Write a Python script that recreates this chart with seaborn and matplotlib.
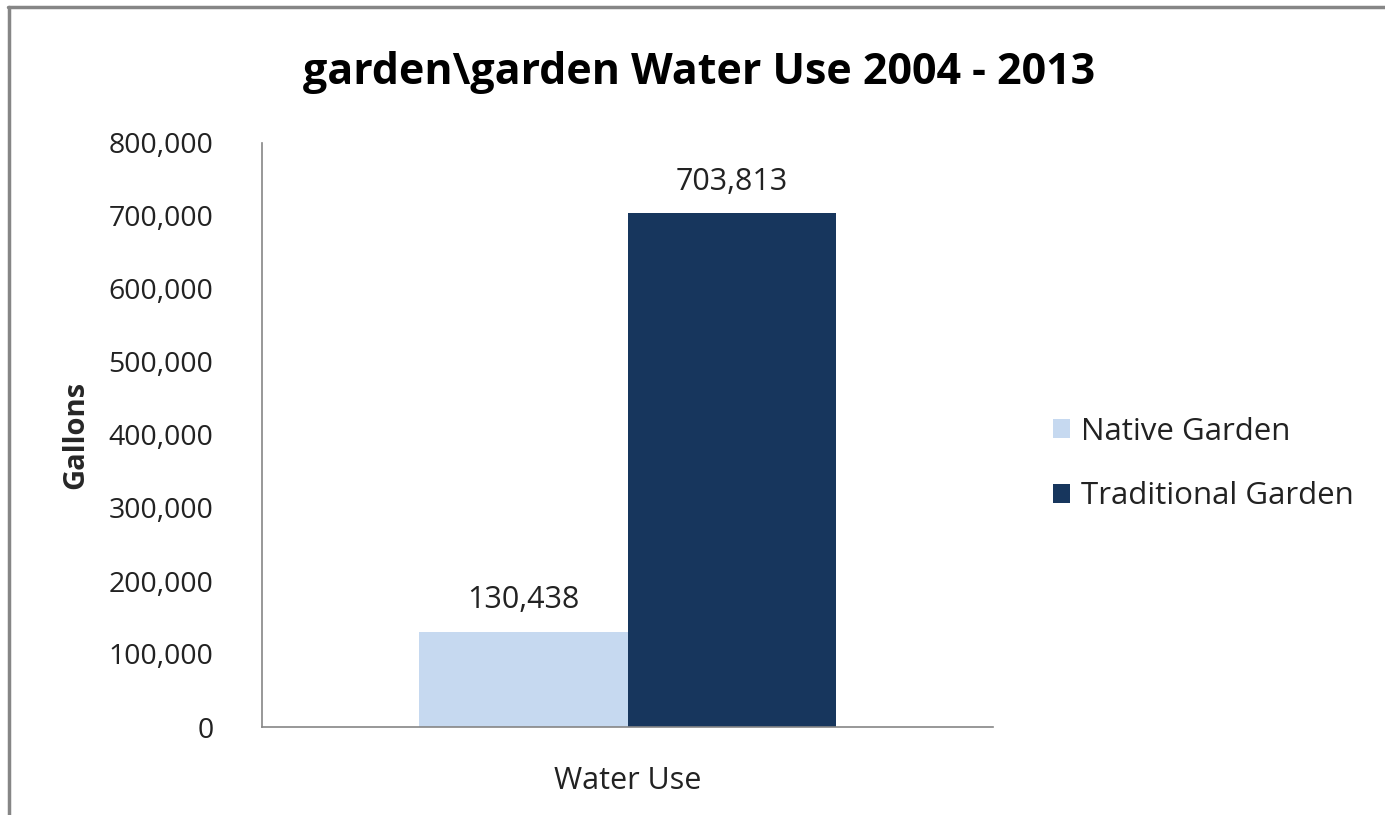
import matplotlib
matplotlib.use("Agg")
import matplotlib.pyplot as plt
import seaborn as sns
import pandas as pd
from matplotlib.lines import Line2D
from matplotlib.patches import Patch
from matplotlib.ticker import FuncFormatter

categories = ["Water Use"]
series = ["Native Garden", "Traditional Garden"]
native_values = [130438]
traditional_values = [703813]
colors = ["#C6D9F0", "#17365D"]
title = "garden\\garden Water Use 2004 - 2013"

df = pd.DataFrame({
    "category": categories * 2,
    "series": [series[0]] * len(categories) + [series[1]] * len(categories),
    "value": native_values + traditional_values,
})

sns.set_theme(style="white")
plt.rcParams["font.family"] = ["Open Sans", "DejaVu Sans"]

fig = plt.figure(figsize=(13.85, 8.15), dpi=100)
ax = fig.add_axes([262/1385, 1-727/815, (993-262)/1385, (727-143)/815])

sns.barplot(data=df, x="category", y="value", hue="series", palette=colors,
            width=0.57, gap=0, ax=ax, legend=False, saturation=1, errorbar=None,
            linewidth=0)

ax.set_ylim(0, 800000)
ax.set_xlim(-0.5, 0.5)
ax.set_yticks(range(0, 800001, 100000))
ax.yaxis.set_major_formatter(FuncFormatter(lambda v, p: f"{int(v):,}"))
ax.tick_params(axis="both", length=0, colors="#000000")
ax.tick_params(axis="y", pad=35, labelsize=20.5)
ax.tick_params(axis="x", pad=28, labelsize=22)
for lab in ax.get_yticklabels() + ax.get_xticklabels():
    lab.set_color("#222222")

for s in ["top", "right"]:
    ax.spines[s].set_visible(False)
for s in ["left", "bottom"]:
    ax.spines[s].set_color("#868686")
    ax.spines[s].set_linewidth(1.2)

ax.set_xlabel("")
ax.set_ylabel("Gallons", fontsize=21, fontweight="bold")
ax.yaxis.set_label_coords(-0.235, 0.5)

for cont in ax.containers:
    ax.bar_label(cont, labels=[f"{int(v):,}" for v in cont.datavalues],
                 padding=12, fontsize=22, color="#222222")

fig.text(699/1385, 1-73/815, title, ha="center", va="center",
         fontsize=31, fontweight="bold", color="#000000")

handles = [Patch(facecolor=c, edgecolor="none") for c in colors]
leg = fig.legend(handles, series, loc="center left",
                 bbox_to_anchor=(1028/1385, 1-464/815), frameon=False,
                 fontsize=22.5, handlelength=0.55, handleheight=0.55,
                 handletextpad=0.35, labelspacing=1.1, borderpad=0.3)
for t in leg.get_texts():
    t.set_color("#222222")

fig.add_artist(Line2D([8/1385, 1], [1-7/815, 1-7/815], color="#868686", lw=2.5,
                      transform=fig.transFigure))
fig.add_artist(Line2D([9/1385, 9/1385], [0, 1-7/815], color="#868686", lw=2.5,
                      transform=fig.transFigure))

fig.savefig("out.png", dpi=100)
